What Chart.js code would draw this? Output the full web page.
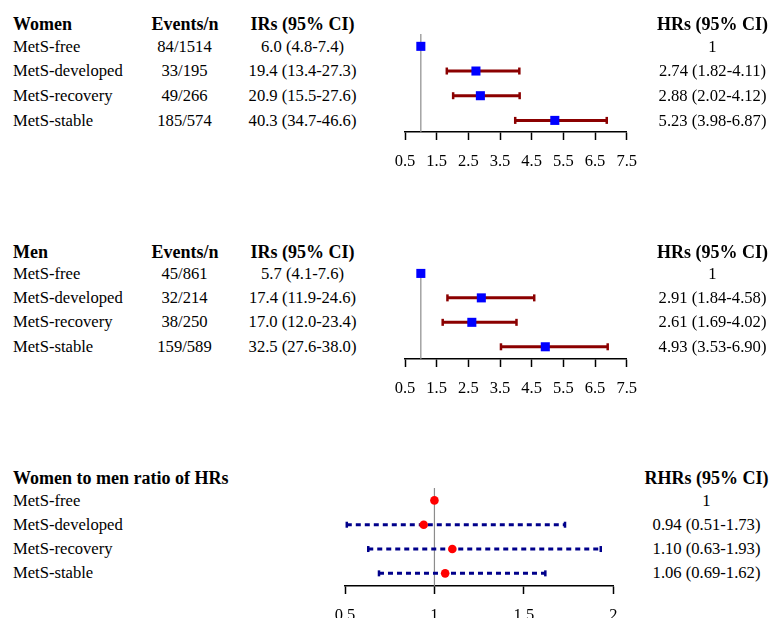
<!DOCTYPE html>
<html>
<head>
<meta charset="utf-8">
<script src="https://cdn.jsdelivr.net/npm/chart.js@4.4.1/dist/chart.umd.min.js"></script>
<style>
  html, body { margin: 0; padding: 0; background: #fff; }
  body { width: 773px; height: 618px; position: relative; overflow: hidden; font-family: 'Liberation Serif', 'Times New Roman', serif; color: #000; }
  canvas { position: absolute; }
  .t { position: absolute; font-size: 16.6px; line-height: 20px; height: 20px; white-space: nowrap; }
  .b { font-weight: bold; font-size: 18px; }
  .c { transform: translateX(-50%); }
</style>
</head>
<body>
<canvas id="women"></canvas>
<canvas id="men"></canvas>
<canvas id="ratio"></canvas>
<script>
// rows shared by all three panels
const rowLabels = ['MetS-free', 'MetS-developed', 'MetS-recovery', 'MetS-stable'];

// Women
const womenEvents = ['84/1514', '33/195', '49/266', '185/574'];
const womenIR = ['6.0 (4.8-7.4)', '19.4 (13.4-27.3)', '20.9 (15.5-27.6)', '40.3 (34.7-46.6)'];
const womenHR = [1, 2.74, 2.88, 5.23];
const womenLo = [null, 1.82, 2.02, 3.98];
const womenHi = [null, 4.11, 4.12, 6.87];

// Men
const menEvents = ['45/861', '32/214', '38/250', '159/589'];
const menIR = ['5.7 (4.1-7.6)', '17.4 (11.9-24.6)', '17.0 (12.0-23.4)', '32.5 (27.6-38.0)'];
const menHR = [1, 2.91, 2.61, 4.93];
const menLo = [null, 1.84, 1.69, 3.53];
const menHi = [null, 4.58, 4.02, 6.90];

// Women to men ratio
const ratioHR = [1, 0.94, 1.10, 1.06];
const ratioLo = [null, 0.51, 0.63, 0.69];
const ratioHi = [null, 1.73, 1.93, 1.62];

const hrTicks = [0.5, 1.5, 2.5, 3.5, 4.5, 5.5, 6.5, 7.5];
const ratioTicks = [0.5, 1, 1.5, 2];

Chart.defaults.font.family = "'Liberation Serif', 'Times New Roman', serif";
Chart.defaults.font.size = 16.5;
Chart.defaults.color = '#000';

function text(str, x, y, opts = {}) {
  const d = document.createElement('div');
  d.className = 't' + (opts.bold ? ' b' : '') + (opts.center ? ' c' : '');
  d.textContent = str;
  d.style.left = x + 'px';
  d.style.top = (y - 10) + 'px';
  document.body.appendChild(d);
}

function ciText(hr, lo, hi) {
  if (lo == null) return String(hr);
  return hr.toFixed(2) + ' (' + lo.toFixed(2) + '-' + hi.toFixed(2) + ')';
}

function forest(id, box, hr, lo, hi, ticks, st) {
  const pad = 30, axisH = 45;
  const cv = document.getElementById(id);
  const w = box.right - box.left + 2 * pad;
  const h = pad + (box.bottom - box.top) + axisH;
  cv.width = Math.ceil(w); cv.height = Math.ceil(h);
  cv.style.left = (box.left - pad) + 'px';
  cv.style.top = (box.top - pad) + 'px';

  const datasets = [];
  datasets.push({
    data: hr.map((v, i) => ({ x: v, y: i + 1 })),
    pointStyle: st.marker, pointRadius: st.markerR, pointBorderWidth: 0,
    backgroundColor: st.markerColor, borderColor: st.markerColor, clip: false
  });
  hr.forEach((v, i) => {
    if (lo[i] == null) return;
    datasets.push({
      data: [{ x: lo[i], y: i + 1 }, { x: hi[i], y: i + 1 }],
      showLine: true, borderColor: st.ciColor, borderWidth: 3, borderDash: st.dash,
      pointStyle: 'line', rotation: 90, pointRadius: st.capR, pointBorderWidth: 2.5,
      pointBorderColor: st.ciColor, clip: false
    });
  });
  datasets.push({
    data: [{ x: 1, y: box.yMin }, { x: 1, y: box.yMax }],
    showLine: true, borderColor: '#8c8c8c', borderWidth: 1.2, pointRadius: 0, clip: false
  });

  new Chart(cv, {
    type: 'scatter',
    data: { datasets },
    options: {
      responsive: false, animation: false,
      layout: { padding: { left: pad, right: cv.width - pad - (box.right - box.left), top: pad, bottom: 0 } },
      plugins: { legend: { display: false }, tooltip: { enabled: false } },
      scales: {
        x: {
          type: 'linear', min: ticks[0], max: ticks[ticks.length - 1],
          afterBuildTicks: s => { s.ticks = ticks.map(v => ({ value: v })); },
          afterFit: s => { s.height = axisH; },
          ticks: { callback: v => String(v), padding: 12, maxRotation: 0, autoSkip: false },
          grid: { drawOnChartArea: false, drawTicks: true, tickLength: 8, tickWidth: 1.5, tickColor: '#000' },
          border: { display: true, color: '#000', width: 1.5 }
        },
        y: { type: 'linear', display: false, min: box.yMin, max: box.yMax, reverse: true }
      }
    }
  });
}

const hrStyle = { marker: 'rect', markerR: 6.4, markerColor: '#0000ff', ciColor: '#8b0000', dash: [], capR: 3.5 };
const ratioStyle = { marker: 'circle', markerR: 4.3, markerColor: '#ff0000', ciColor: '#00008b', dash: [5, 4], capR: 3 };

forest('women', { left: 405, right: 626.7, top: 34.3, bottom: 132.3, yMin: 0.5, yMax: 4.47 }, womenHR, womenLo, womenHi, hrTicks, hrStyle);
forest('men', { left: 405, right: 626.7, top: 270.3, bottom: 359, yMin: 0.86, yMax: 4.5 }, menHR, menLo, menHi, hrTicks, hrStyle);
forest('ratio', { left: 345, right: 613.3, top: 488.3, bottom: 586, yMin: 0.49, yMax: 4.52 }, ratioHR, ratioLo, ratioHi, ratioTicks, ratioStyle);

// table text
const blocks = [
  { title: 'Women', headY: 23.8, rows: [46.7, 71.4, 96, 120.7], events: womenEvents, ir: womenIR, hr: womenHR, lo: womenLo, hi: womenHi, hrHead: 'HRs (95% CI)', hrX: 712.5 },
  { title: 'Men', headY: 251.7, rows: [273.7, 298, 322.4, 346.8], events: menEvents, ir: menIR, hr: menHR, lo: menLo, hi: menHi, hrHead: 'HRs (95% CI)', hrX: 712.5 },
  { title: 'Women to men ratio of HRs', headY: 478.3, rows: [500.7, 524.9, 549.2, 573.4], hr: ratioHR, lo: ratioLo, hi: ratioHi, hrHead: 'RHRs (95% CI)', hrX: 706.5 }
];
blocks.forEach(b => {
  text(b.title, 13, b.headY, { bold: true });
  if (b.events) {
    text('Events/n', 185, b.headY, { bold: true, center: true });
    text('IRs (95% CI)', 302.5, b.headY, { bold: true, center: true });
  }
  text(b.hrHead, b.hrX, b.headY, { bold: true, center: true });
  rowLabels.forEach((lab, i) => {
    const y = b.rows[i];
    text(lab, 13, y);
    if (b.events) {
      text(b.events[i], 184.5, y, { center: true });
      text(b.ir[i], 302.5, y, { center: true });
    }
    text(ciText(b.hr[i], b.lo[i], b.hi[i]), b.hrX, y, { center: true });
  });
});
</script>
</body>
</html>
